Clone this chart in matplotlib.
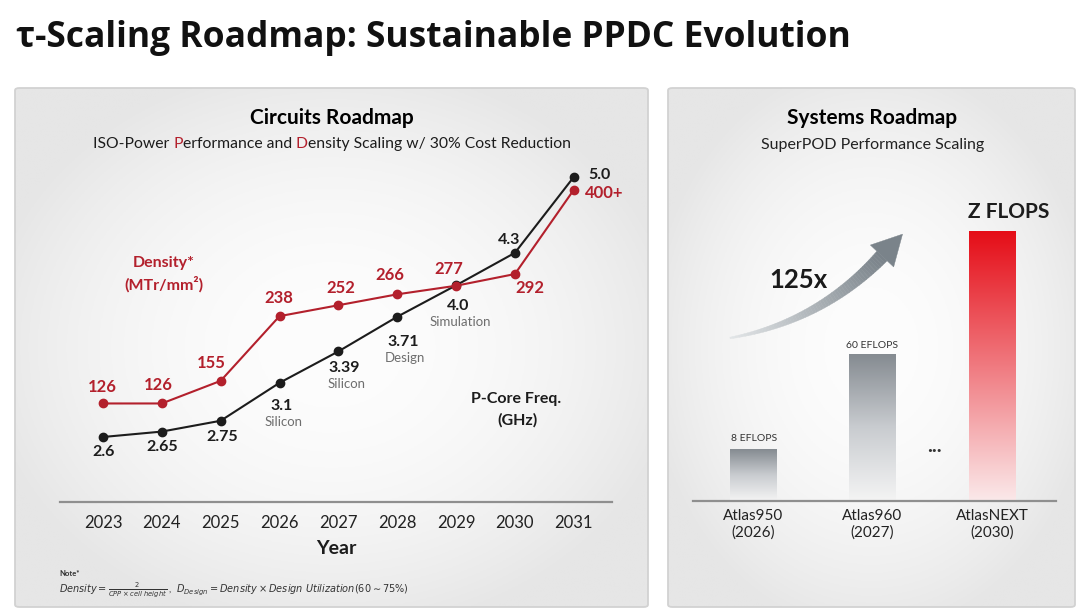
import numpy as np
import matplotlib.pyplot as plt
from matplotlib.colors import LinearSegmentedColormap, to_rgb
from matplotlib.patches import FancyBboxPatch, Polygon

plt.rcParams['font.family'] = ['Lato', 'DejaVu Sans']

# ---- data ----
years = [2023, 2024, 2025, 2026, 2027, 2028, 2029, 2030, 2031]
freq = [2.6, 2.65, 2.75, 3.1, 3.39, 3.71, 4.0, 4.3, 5.0]
freq_status = ['', '', '', 'Silicon', 'Silicon', 'Design', 'Simulation', '', '']
density = [126, 126, 155, 238, 252, 266, 277, 292, 400]

systems = ['Atlas950\n(2026)', 'Atlas960\n(2027)', 'AtlasNEXT\n(2030)']
system_perf = ['8 EFLOPS', '60 EFLOPS', 'Z FLOPS']
system_bar = [15, 43, 79]   # drawn height, % of panel (schematic, not to scale)

# label offsets (pixels) relative to each point
freq_off = [(1, -15), (0, -15), (2, -16), (2, -23), (6, -17), (6, -25), (2, -21), (-6, 13), (26, 2)]
dens_off = [(-1, 16), (-4, 18), (-9, 18), (-1, 18), (2, 17), (-7, 19), (-7, 17), (15, -14), (30, -3)]

RED = '#b3202c'
BLACK = '#1c1c1c'
GRAY = '#6e6e6e'

W, H = 1080, 616
fig = plt.figure(figsize=(10.8, 6.16), dpi=100)
fig.patch.set_facecolor('white')


def fx(x):
    return x / W


def fy(y):
    return 1 - y / H


# ---- panel backgrounds ----
def panel(x0, y0, x1, y1):
    bg = fig.add_axes([fx(x0), fy(y1), (x1 - x0) / W, (y1 - y0) / H], zorder=-1)
    gx, gy = np.meshgrid(np.linspace(-1, 1, 200), np.linspace(-1, 1, 200))
    d = np.clip(np.sqrt(gx ** 2 * 0.8 + gy ** 2 * 0.8), 0, 1) ** 2.0
    c0, c1 = np.array(to_rgb('#fdfdfd')), np.array(to_rgb('#e6e6e6'))
    img = c0[None, None, :] * (1 - d[..., None]) + c1[None, None, :] * d[..., None]
    bg.imshow(img, aspect='auto', extent=[0, 1, 0, 1])
    bg.axis('off')
    fig.add_artist(FancyBboxPatch((fx(x0), fy(y1)), (x1 - x0) / W, (y1 - y0) / H,
                                  boxstyle='round,pad=0,rounding_size=0.004',
                                  transform=fig.transFigure, facecolor='none',
                                  edgecolor='#d2d2d2', lw=1.3, zorder=0))


panel(15, 88, 648, 607)
panel(668, 88, 1075, 607)

fig.text(fx(16), fy(38), 'τ-Scaling Roadmap: Sustainable PPDC Evolution',
         fontsize=25.5, fontweight='bold', family='Open Sans', va='center', ha='left', color='#111111')

# ---- circuits roadmap ----
fig.text(fx(332), fy(118), 'Circuits Roadmap', fontsize=15, fontweight='bold', ha='center', va='center')

# subtitle with red initials
renderer = fig.canvas.get_renderer()
parts = [('ISO-Power ', BLACK), ('P', RED), ('erformance and ', BLACK), ('D', RED),
         ('ensity Scaling w/ 30% Cost Reduction', BLACK)]
pieces, widths = [], []
for s, c in parts:
    t = fig.text(0, fy(144), s, fontsize=11.3, color=c, ha='left', va='center')
    pieces.append(t)
    widths.append(t.get_window_extent(renderer).width)
xpos = 332 - sum(widths) / 2
for t, w in zip(pieces, widths):
    t.set_x(fx(xpos))
    xpos += w

ax = fig.add_axes([fx(60), fy(502), (612 - 60) / W, (502 - 160) / H])
ax.set_xlim(2022.27, 2031.65)
ax.set_ylim(2.0, 5.157)
ax2 = ax.twinx()
ax2.set_ylim(-0.4, 438.3)
for a in (ax, ax2):
    a.patch.set_visible(False)
    for s in a.spines.values():
        s.set_visible(False)
    a.set_yticks([])
ax.spines['bottom'].set_visible(True)
ax.spines['bottom'].set_color('#8f8f8f')
ax.spines['bottom'].set_linewidth(1.6)
ax.set_xticks(years)
ax.set_xticklabels([str(y) for y in years])
ax.tick_params(axis='x', length=0, pad=9, labelsize=12, labelcolor='#222222')

ax.plot(years, freq, color=BLACK, lw=1.5, marker='o', ms=6)
ax2.plot(years, density, color=RED, lw=1.5, marker='o', ms=6)

for x, v, st, (dx, dy) in zip(years, freq, freq_status, freq_off):
    lab = f'{v:.1f}' if round(v, 1) == v else f'{v:.2f}'
    ax.annotate(lab, (x, v), xytext=(dx, dy), textcoords='offset pixels',
                ha='center', va='center', fontsize=11.5, fontweight='bold', color=BLACK)
    if st:
        ax.annotate(st, (x, v), xytext=(dx + 2, dy - 16), textcoords='offset pixels',
                    ha='center', va='center', fontsize=9.5, color=GRAY)

dens_lab = [str(v) for v in density]
dens_lab[-1] += '+'
for x, v, lab, (dx, dy) in zip(years, density, dens_lab, dens_off):
    ax2.annotate(lab, (x, v), xytext=(dx, dy), textcoords='offset pixels',
                 ha='center', va='center', fontsize=12, fontweight='bold', color=RED)

fig.text(fx(164), fy(263), 'Density*', fontsize=11.5, fontweight='bold', color=RED, ha='center', va='center')
fig.text(fx(164), fy(284), '(MTr/mm²)', fontsize=11.5, fontweight='bold', color=RED, ha='center', va='center')
fig.text(fx(516), fy(399), 'P-Core Freq.', fontsize=11.5, fontweight='bold', color=BLACK, ha='center', va='center')
fig.text(fx(518), fy(420), '(GHz)', fontsize=11.5, fontweight='bold', color=BLACK, ha='center', va='center')
fig.text(fx(336), fy(548), 'Year', fontsize=14, fontweight='bold', color=BLACK, ha='center', va='center')

fig.text(fx(59), fy(573), 'Note*', fontsize=5.5, fontweight='bold', color='#333333', ha='left', va='center')
fig.text(fx(59), fy(590),
         r'$Density=\frac{2}{CPP\times cell\ height}$ ,  $D_{Design}=Density\times Design\ Utilization(60\sim75\%)$',
         fontsize=7, color='#333333', ha='left', va='center')

# ---- systems roadmap ----
fig.text(fx(872), fy(118), 'Systems Roadmap', fontsize=15, fontweight='bold', ha='center', va='center')
fig.text(fx(873), fy(145), 'SuperPOD Performance Scaling', fontsize=11.5, ha='center', va='center', color='#222222')

axr = fig.add_axes([fx(693), fy(501), (1056 - 693) / W, (501 - 160) / H])
axr.patch.set_visible(False)
xs = np.arange(len(systems))
bw = 0.39
cm_gray = LinearSegmentedColormap.from_list('g', ['#f4f4f4', '#c9ccd0', '#858b91'])
cm_red = LinearSegmentedColormap.from_list('r', ['#fbe9ea', '#f07a80', '#e50d17'])
grad = np.linspace(0, 1, 256).reshape(-1, 1)
for i, (x, h) in enumerate(zip(xs, system_bar)):
    cmap = cm_red if i == len(xs) - 1 else cm_gray
    axr.imshow(grad, cmap=cmap, origin='lower', aspect='auto',
               extent=[x - bw / 2, x + bw / 2, 0, h], zorder=2)
axr.set_xlim(-0.502, 2.536)
axr.set_ylim(0, 100)
for s in axr.spines.values():
    s.set_visible(False)
axr.spines['bottom'].set_visible(True)
axr.spines['bottom'].set_color('#8f8f8f')
axr.spines['bottom'].set_linewidth(1.6)
axr.set_yticks([])
axr.set_xticks(xs)
axr.set_xticklabels(systems, fontsize=11, linespacing=1.2, color='#222222')
axr.tick_params(axis='x', length=0, pad=6)

axr.annotate(system_perf[0], (xs[0], system_bar[0]), xytext=(1, 11), textcoords='offset pixels',
             ha='center', va='center', fontsize=7.5, color='#333333')
axr.annotate(system_perf[1], (xs[1], system_bar[1]), xytext=(0, 9), textcoords='offset pixels',
             ha='center', va='center', fontsize=7.5, color='#333333')
axr.annotate(system_perf[2], (xs[2], system_bar[2]), xytext=(17, 20), textcoords='offset pixels',
             ha='center', va='center', fontsize=15, fontweight='bold', color=BLACK)
fig.text(fx(934), fy(446), '...', fontsize=15, fontweight='bold', ha='center', va='center', color='#333333')
fig.text(fx(798), fy(280), '125x', fontsize=18.5, fontweight='bold', ha='center', va='center', color='#1a1a1a')

# curved tapered arrow (pixel coords, y down)
P0, P1, P2 = np.array([730., 338.]), np.array([820., 322.]), np.array([882., 256.])
ts = np.linspace(0, 1, 60)
pts = [(1 - t) ** 2 * P0 + 2 * (1 - t) * t * P1 + t ** 2 * P2 for t in ts]
c_start, c_end = np.array(to_rgb('#e4e7e9')), np.array(to_rgb('#7a838a'))
for k in range(len(ts) - 1):
    t0, t1 = ts[k], ts[k + 1]
    seg = []
    for t, p in ((t0, pts[k]), (t1, pts[k + 1])):
        tan = 2 * (1 - t) * (P1 - P0) + 2 * t * (P2 - P1)
        nrm = np.array([-tan[1], tan[0]]) / np.hypot(*tan)
        hw = 0.8 + 6.2 * t
        seg.append((p + nrm * hw, p - nrm * hw))
    quad = [seg[0][0], seg[1][0], seg[1][1], seg[0][1]]
    col = c_start * (1 - t1) + c_end * t1
    fig.add_artist(Polygon([(fx(q[0]), fy(q[1])) for q in quad], closed=True,
                           transform=fig.transFigure, facecolor=col, edgecolor=col, lw=0.3))
tan = 2 * (P2 - P1)
d = tan / np.hypot(*tan)
nrm = np.array([-d[1], d[0]])
tip = P2 + d * 30
head = [P2 + nrm * 16, tip, P2 - nrm * 16]
fig.add_artist(Polygon([(fx(q[0]), fy(q[1])) for q in head], closed=True,
                       transform=fig.transFigure, facecolor=c_end, edgecolor=c_end, lw=0.3))

fig.savefig('out.png', dpi=100)
